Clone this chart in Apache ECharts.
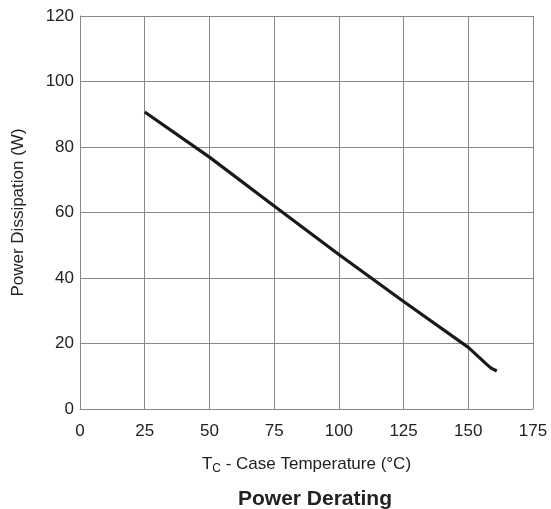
<!DOCTYPE html>
<html><head><meta charset="utf-8">
<script src="https://cdn.jsdelivr.net/npm/echarts@6/dist/echarts.min.js"></script>
<style>html,body{margin:0;padding:0;background:#fff}#c{width:551px;height:509px}</style>
</head><body><div id="c"></div>
<script>
const temps = [25, 50, 75, 100, 125, 150, 154, 157, 159, 161];
const power = [90.7, 76.9, 62, 47.2, 32.8, 18.8, 15.9, 13.7, 12.4, 11.6];
const xTicks = [0, 25, 50, 75, 100, 125, 150, 175];
const yTicks = [0, 20, 40, 60, 80, 100, 120];

const chart = echarts.init(document.getElementById('c'));
const font = 'Liberation Sans, Arial, sans-serif';
chart.setOption({
  animation: false,
  title: {
    text: 'Power Derating', left: 310, top: 484, textAlign: 'center',
    textStyle: {fontFamily: font, fontSize: 21, fontWeight: 'bold', color: '#222'}
  },
  grid: {left: 80, right: 18, top: 16, bottom: 100},
  xAxis: {
    type: 'value', min: 0, max: 175, interval: 25,
    axisLine: {show: true, lineStyle: {color: '#888', width: 1}},
    axisTick: {show: false},
    splitLine: {show: true, lineStyle: {color: '#888', width: 1}},
    axisLabel: {fontFamily: font, fontSize: 17, color: '#222', margin: 14,
      customValues: xTicks},
    name: '{a|T}{b|C}{a| - Case Temperature (°C)}',
    nameLocation: 'middle', nameGap: 44,
    nameTextStyle: {
      rich: {
        a: {fontFamily: font, fontSize: 17, color: '#222', lineHeight: 22},
        b: {fontFamily: font, fontSize: 12, color: '#222', lineHeight: 22, padding: [10, 0, 0, 0]}
      }
    }
  },
  yAxis: {
    type: 'value', min: 0, max: 120, interval: 20,
    axisLine: {show: true, lineStyle: {color: '#888', width: 1}},
    axisTick: {show: false},
    splitLine: {show: true, lineStyle: {color: '#888', width: 1}},
    axisLabel: {fontFamily: font, fontSize: 17, color: '#222', margin: 6,
      customValues: yTicks},
    name: 'Power Dissipation (W)', nameLocation: 'middle', nameGap: 53,
    nameTextStyle: {fontFamily: font, fontSize: 17, color: '#222'}
  },
  series: [{
    type: 'line', data: temps.map((t, i) => [t, power[i]]),
    smooth: false, symbol: 'none',
    lineStyle: {color: '#1a1a1a', width: 3.2, join: 'round'}
  }]
});
</script></body></html>
